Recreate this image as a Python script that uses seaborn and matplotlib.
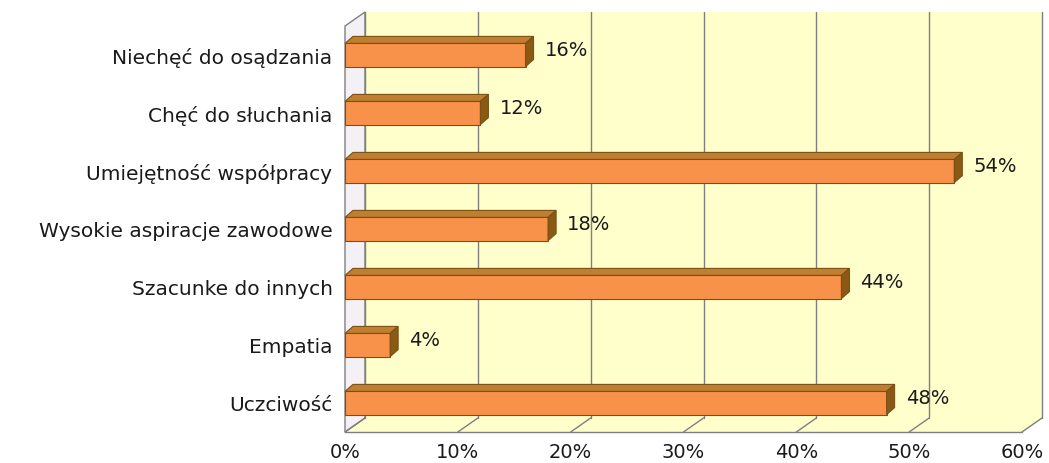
import matplotlib
matplotlib.use("Agg")
import matplotlib.pyplot as plt
import seaborn as sns
import pandas as pd
from matplotlib.patches import Polygon

categories = [
    "Niechęć do osądzania",
    "Chęć do słuchania",
    "Umiejętność współpracy",
    "Wysokie aspiracje zawodowe",
    "Szacunke do innych",
    "Empatia",
    "Uczciwość",
]
values = [16, 12, 54, 18, 44, 4, 48]
x_ticks = [0, 10, 20, 30, 40, 50, 60]
x_tick_labels = ["0%", "10%", "20%", "30%", "40%", "50%", "60%"]

df = pd.DataFrame({"category": categories, "value": values})

sns.set_theme(style="white")
plt.rcParams["font.family"] = ["DejaVu Sans"]

W, H = 1049, 464
fig = plt.figure(figsize=(W / 100, H / 100), dpi=100)
ax = fig.add_axes([345 / W, (H - 433) / H, (1022 - 345) / W, (433 - 27) / H])

FRONT = "#F8924A"
TOP = "#BF7E30"
SIDE = "#8A5914"
EDGE = "#7A5015"
WALL = "#FFFFCC"
GRID = "#7F7F7F"
TEXT = "#1a1a1a"
FS = 14

sns.barplot(data=df, x="value", y="category", orient="h", color=FRONT,
            saturation=1, width=0.4, ax=ax, zorder=5,
            edgecolor=EDGE, linewidth=0.8)

xmax = 60
ax.set_xlim(0, xmax)
ax.set_ylim(6.5, -0.5)

# depth offsets in data units (back wall and bar extrusion)
px_x = xmax / (1022 - 345)
px_y = 7 / (433 - 27)
wdx, wdy = 20 * px_x, -14 * px_y
bdx, bdy = 8 * px_x, -7 * px_y

y0, y1 = -0.5, 6.5

# back wall
ax.add_patch(Polygon([(wdx, y0 + wdy), (xmax + wdx, y0 + wdy),
                      (xmax + wdx, y1 + wdy), (wdx, y1 + wdy)],
                     closed=True, facecolor=WALL, edgecolor="none",
                     clip_on=False, zorder=0))
# floor
ax.add_patch(Polygon([(0, y1), (xmax, y1), (xmax + wdx, y1 + wdy), (wdx, y1 + wdy)],
                     closed=True, facecolor=WALL, edgecolor="none",
                     clip_on=False, zorder=0))
# left side wall
ax.add_patch(Polygon([(0, y0), (wdx, y0 + wdy), (wdx, y1 + wdy), (0, y1)],
                     closed=True, facecolor="#F3F1F6", edgecolor=GRID,
                     linewidth=1, clip_on=False, zorder=1))

# gridlines on the back wall and floor
for t in x_ticks:
    ax.plot([t + wdx, t + wdx], [y0 + wdy, y1 + wdy], color=GRID, lw=1,
            clip_on=False, zorder=1)
    ax.plot([t, t + wdx], [y1, y1 + wdy], color=GRID, lw=1,
            clip_on=False, zorder=1)
ax.plot([0, xmax], [y1, y1], color=GRID, lw=1, clip_on=False, zorder=1)

# 3D extrusion of the bars and value labels
bars = [p for p in ax.patches if p.get_zorder() == 5]
for p, v in zip(bars, values):
    x0 = p.get_x()
    w = p.get_width()
    yt = p.get_y()
    hb = p.get_height()
    yb = yt + hb
    x1 = x0 + w
    ax.add_patch(Polygon([(x0, yt), (x1, yt), (x1 + bdx, yt + bdy), (x0 + bdx, yt + bdy)],
                         closed=True, facecolor=TOP, edgecolor=EDGE, lw=0.8,
                         zorder=6, clip_on=False))
    ax.add_patch(Polygon([(x1, yt), (x1 + bdx, yt + bdy), (x1 + bdx, yb + bdy), (x1, yb)],
                         closed=True, facecolor=SIDE, edgecolor=EDGE, lw=0.8,
                         zorder=6, clip_on=False))
    ax.text(x1 + 19 * px_x, yt + hb / 2 - 0.1, f"{v}%", ha="left", va="center",
            fontsize=FS, color=TEXT, zorder=7)

ax.set_facecolor("none")
for s in ax.spines.values():
    s.set_visible(False)
ax.set_xlabel("")
ax.set_ylabel("")
ax.set_xticks(x_ticks)
ax.set_xticklabels(x_tick_labels, fontsize=FS, color=TEXT)
ax.tick_params(axis="x", length=0, pad=7)
ax.tick_params(axis="y", length=0, pad=9)
for lbl in ax.get_yticklabels():
    lbl.set_fontsize(FS + 0.5)
    lbl.set_color(TEXT)

fig.savefig("out.png", dpi=100, facecolor="white")
